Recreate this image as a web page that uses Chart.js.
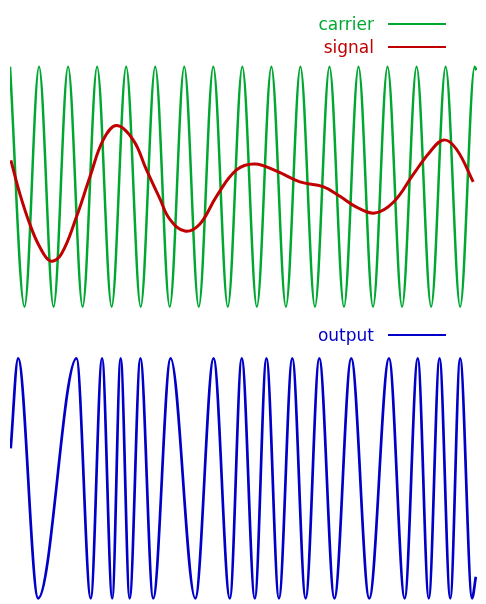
<!DOCTYPE html>
<html>
<head>
<meta charset="utf-8">
<script src="https://cdn.jsdelivr.net/npm/chart.js@4"></script>
<style>
  html, body { margin: 0; padding: 0; background: #ffffff; }
  #wrap { position: relative; width: 486px; height: 604px; overflow: hidden; }
  .box { position: absolute; left: 0; width: 486px; }
  #topBox { top: 0; height: 320px; }
  #botBox { top: 320px; height: 284px; }
</style>
</head>
<body>
<div id="wrap">
  <div class="box" id="topBox"><canvas id="top" width="486" height="320"></canvas></div>
  <div class="box" id="botBox"><canvas id="bot" width="486" height="284"></canvas></div>
</div>
<script>
// ---- data (time in carrier periods, amplitude normalised) ----
const carrierT = [0, 0.5, 1, 1.5, 2, 2.5, 3, 3.5, 4, 4.5, 5, 5.5, 6, 6.5, 7, 7.5, 8, 8.5,
                  9, 9.5, 10, 10.5, 11, 11.5, 12, 12.5, 13, 13.5, 14, 14.5, 15, 15.5, 16, 16.06];
const carrierV = [1, -1, 1, -1, 1, -1, 1, -1, 1, -1, 1, -1, 1, -1, 1, -1, 1, -1,
                  1, -1, 1, -1, 1, -1, 1, -1, 1, -1, 1, -1, 1, -1, 1, 0.97];

const signalT = [0.03, 0.34, 0.68, 1.02, 1.40, 1.77, 2.29, 2.75, 3.21, 3.67, 4.24, 4.70,
                 5.16, 5.50, 6.02, 6.54, 7.11, 7.80, 8.43, 9.18, 9.98, 10.78, 11.36, 11.93,
                 12.56, 13.20, 13.88, 14.46, 14.94, 15.38, 15.95];
const signalV = [0.22, -0.06, -0.31, -0.50, -0.62, -0.56, -0.25, 0.08, 0.39, 0.51, 0.39, 0.14,
                 -0.10, -0.27, -0.37, -0.31, -0.08, 0.14, 0.19, 0.13, 0.04, 0.00, -0.08, -0.17,
                 -0.22, -0.13, 0.10, 0.29, 0.39, 0.31, 0.04];

const outputT = [0.025, 0.28, 0.97, 2.29, 2.78, 3.17, 3.52, 3.81, 4.12, 4.49, 4.93, 5.53,
                 6.38, 7.01, 7.57, 7.98, 8.43, 8.83, 9.26, 9.72, 10.18, 10.65, 11.17, 11.75,
                 12.37, 13.05, 13.59, 14.04, 14.42, 14.79, 15.16, 15.50, 15.91, 16.04];
const outputV = [0.25, 1, -1, 1, -1, 1, -1, 1, -1, 1, -1, 1,
                 -1, 1, -1, 1, -1, 1, -1, 1, -1, 1, -1, 1,
                 -1, 1, -1, 1, -1, 1, -1, 1, -1, -0.82];

const seriesLabels = ['carrier', 'signal', 'output'];

// ---- helpers ----
function pts(ts, vs) { return ts.map((t, i) => ({ x: t, y: vs[i] })); }

const lineKey = {
  id: 'lineKey',
  afterDraw(chart, args, opts) {
    const ctx = chart.ctx;
    ctx.save();
    ctx.font = opts.font;
    ctx.textAlign = 'right';
    ctx.textBaseline = 'alphabetic';
    chart.data.datasets.forEach((ds, i) => {
      const y = opts.rows[i];
      ctx.fillStyle = ds.borderColor;
      ctx.fillText(ds.label, opts.textRight, y + opts.baseline);
      ctx.strokeStyle = ds.borderColor;
      ctx.lineWidth = opts.lineWidth;
      ctx.beginPath();
      ctx.moveTo(opts.lineStart, y);
      ctx.lineTo(opts.lineEnd, y);
      ctx.stroke();
    });
    ctx.restore();
  }
};

function baseOptions(yMin, yMax, padding, keyRows) {
  return {
    responsive: false,
    animation: false,
    devicePixelRatio: 1,
    layout: { padding: padding },
    elements: { point: { radius: 0 } },
    scales: {
      x: { type: 'linear', min: 0, max: 16.08, display: false },
      y: { type: 'linear', min: yMin, max: yMax, display: false }
    },
    plugins: {
      legend: { display: false },
      tooltip: { enabled: false },
      lineKey: {
        font: '17px "DejaVu Sans"',
        textRight: 374, lineStart: 388, lineEnd: 446,
        lineWidth: 2, baseline: 6, rows: keyRows
      }
    }
  };
}

const GREEN = '#00a832';
const RED = '#c00000';
const BLUE = '#0000c8';

new Chart(document.getElementById('top'), {
  type: 'line',
  data: {
    datasets: [
      { label: seriesLabels[0], data: pts(carrierT, carrierV), borderColor: GREEN,
        borderWidth: 2.5, cubicInterpolationMode: 'monotone', fill: false, order: 1 },
      { label: seriesLabels[1], data: pts(signalT, signalV), borderColor: RED,
        borderWidth: 3, tension: 0.4, fill: false, order: 0 }
    ]
  },
  options: baseOptions(-1.1, 1.1, { left: 10, right: 9, top: 54.7, bottom: 1.3 }, [24, 47]),
  plugins: [lineKey]
});

new Chart(document.getElementById('bot'), {
  type: 'line',
  data: {
    datasets: [
      { label: seriesLabels[2], data: pts(outputT, outputV), borderColor: BLUE,
        borderWidth: 2.7, cubicInterpolationMode: 'monotone', fill: false }
    ]
  },
  options: baseOptions(-1.04, 1.1, { left: 10, right: 9, top: 26.3, bottom: 0.9 }, [15]),
  plugins: [lineKey]
});
</script>
</body>
</html>
